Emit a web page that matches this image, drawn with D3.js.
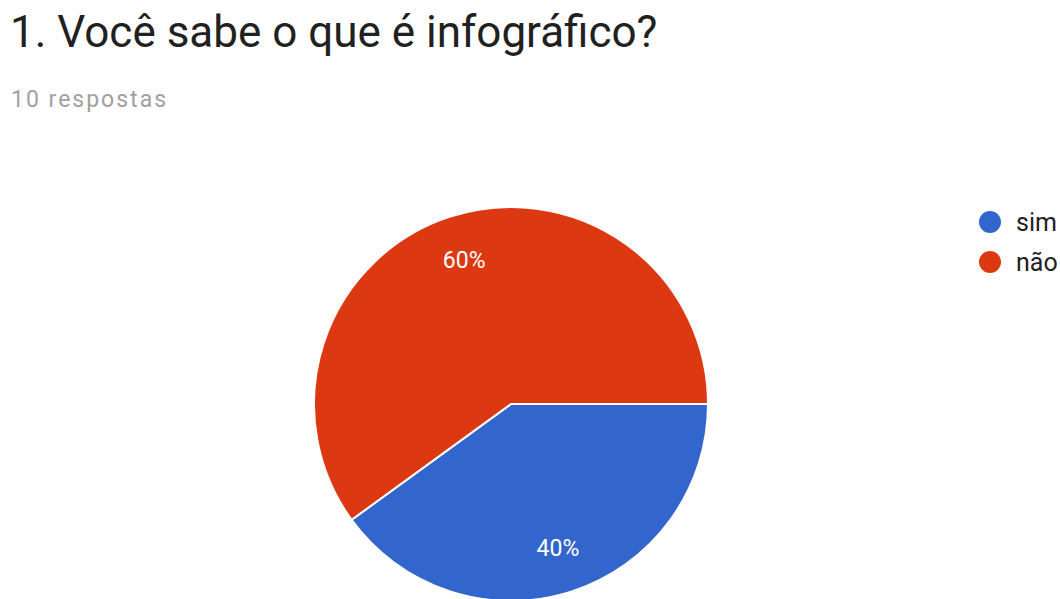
<!DOCTYPE html>
<html><head><meta charset="utf-8">
<script src="https://cdn.jsdelivr.net/npm/d3@7"></script>
<style>body{margin:0;background:#fff;overflow:hidden}svg{display:block}</style>
</head><body>
<svg id="c" width="1060" height="599"></svg>
<script>
const title = "1. Você sabe o que é infográfico?";
const subtitle = "10 respostas";
const categories = ["sim", "não"];
const values = [4, 6];
const colors = ["#3366cc", "#dc3912"];

const svg = d3.select("#c");
svg.append("text").attr("x", 10).attr("y", 47)
  .attr("font-family", "Roboto").attr("font-size", 44).attr("fill", "#212121")
  .text(title);
svg.append("text").attr("x", 11).attr("y", 107)
  .attr("font-family", "Roboto").attr("font-size", 23).attr("fill", "#a0a0a0")
  .attr("letter-spacing", 2)
  .text(subtitle);

const cx = 511, cy = 404, r = 197;
const total = d3.sum(values);
const pie = d3.pie().sort(null).startAngle(Math.PI/2).endAngle(Math.PI/2 + 2*Math.PI);
const arcs = pie(values);
const arc = d3.arc().innerRadius(0).outerRadius(r);
const labelArc = d3.arc().innerRadius(r*0.77).outerRadius(r*0.77);
const g = svg.append("g").attr("transform", `translate(${cx},${cy})`);
g.selectAll("path").data(arcs).join("path")
  .attr("d", arc).attr("fill", (d,i)=>colors[i])
  .attr("stroke", "#fff").attr("stroke-width", 2);
g.selectAll("text").data(arcs).join("text")
  .attr("transform", d => `translate(${labelArc.centroid(d)})`)
  .attr("text-anchor", "middle").attr("dy", "0.35em")
  .attr("font-family", "Roboto").attr("font-size", 23).attr("fill", "#fff")
  .text(d => Math.round(d.data / total * 100) + "%");

const leg = svg.append("g");
categories.forEach((c, i) => {
  const y = 222 + i * 40;
  leg.append("circle").attr("cx", 990).attr("cy", y).attr("r", 11).attr("fill", colors[i]);
  leg.append("text").attr("x", 1016).attr("y", y).attr("dy", "0.35em")
    .attr("font-family", "Roboto").attr("font-size", 25).attr("fill", "#222")
    .text(c);
});
</script>
</body></html>
